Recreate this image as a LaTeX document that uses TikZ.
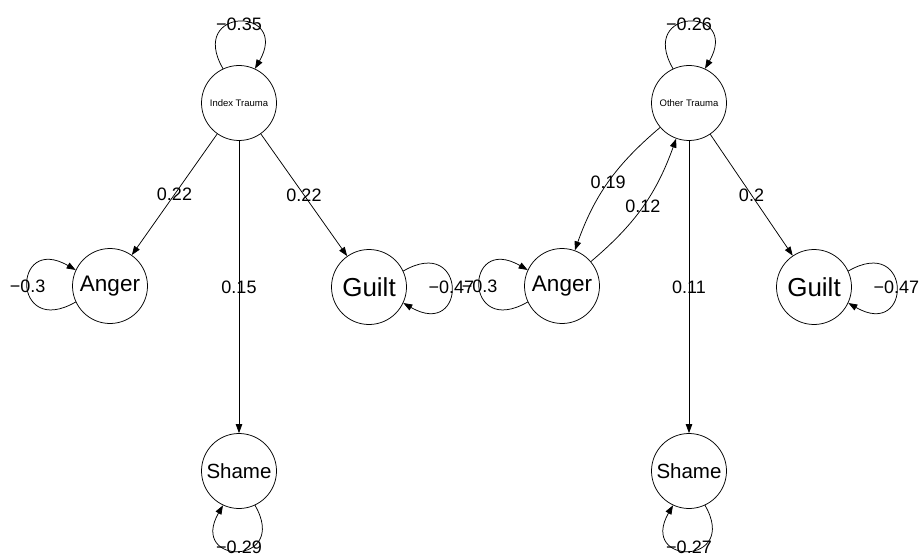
\documentclass[tikz,border=0pt]{standalone}
\usepackage{fontspec}
\setmainfont{Liberation Sans}
\usetikzlibrary{arrows.meta}
\begin{document}
\begin{tikzpicture}[x=1pt,y=1pt,
  var/.style={circle,draw,line width=0.75pt,minimum size=75pt,inner sep=0pt},
  trauma/.style={var,font=\fontsize{9.5}{10}\selectfont},
  angerlab/.style={var,font=\fontsize{22.5}{23}\selectfont},
  guiltlab/.style={var,font=\fontsize{26}{26}\selectfont},
  shamelab/.style={var,font=\fontsize{20.5}{21}\selectfont},
  arc/.style={-{Triangle[length=9pt,width=6.5pt]},line width=0.75pt},
  est/.style={font=\fontsize{18}{18}\selectfont,inner sep=0pt}
]
\useasboundingbox (0,0) rectangle (919,-559);

% left model
\node[trauma]   (it)  at (239,-103) {Index Trauma};
\node[angerlab] (an1) at (110,-286) {Anger};
\node[guiltlab] (gu1) at (369,-287) {Guilt};
\node[shamelab] (sh1) at (239,-471) {Shame};

% right model
\node[trauma]   (ot)  at (689,-103) {Other Trauma};
\node[angerlab] (an2) at (562,-286) {Anger};
\node[guiltlab] (gu2) at (814,-287) {Guilt};
\node[shamelab] (sh2) at (689,-471) {Shame};

% paths, left
\draw[arc] (it) -- node[est]{0.22} (an1);
\draw[arc] (it) -- node[est]{0.22} (gu1);
\draw[arc] (it) -- node[est]{0.15} (sh1);

% paths, right
\draw[arc] (ot) to[bend right=15] node[est]{0.19} (an2);
\draw[arc] (an2) to[bend right=15] node[est]{0.12} (ot);
\draw[arc] (ot) -- node[est]{0.2} (gu2);
\draw[arc] (ot) -- node[est]{0.11} (sh2);

% residual variances, left
\draw[arc] (it.115) .. controls +(120:72) and +(60:72) .. node[est,yshift=-2pt]{−0.35} (it.65);
\draw[arc] (an1.205) .. controls +(210:74) and +(150:74) .. node[est]{−0.3} (an1.155);
\draw[arc] (gu1.25) .. controls +(30:74) and +(-30:74) .. node[est]{−0.47} (gu1.335);
\draw[arc] (sh1.295) .. controls +(300:70) and +(240:70) .. node[est,yshift=3pt]{−0.29} (sh1.245);

% residual variances, right
\draw[arc] (ot.115) .. controls +(120:72) and +(60:72) .. node[est,yshift=-2pt]{−0.26} (ot.65);
\draw[arc] (an2.205) .. controls +(210:74) and +(150:74) .. node[est]{−0.3} (an2.155);
\draw[arc] (gu2.25) .. controls +(30:74) and +(-30:74) .. node[est]{−0.47} (gu2.335);
\draw[arc] (sh2.295) .. controls +(300:70) and +(240:70) .. node[est,yshift=3pt]{−0.27} (sh2.245);
\end{tikzpicture}
\end{document}
